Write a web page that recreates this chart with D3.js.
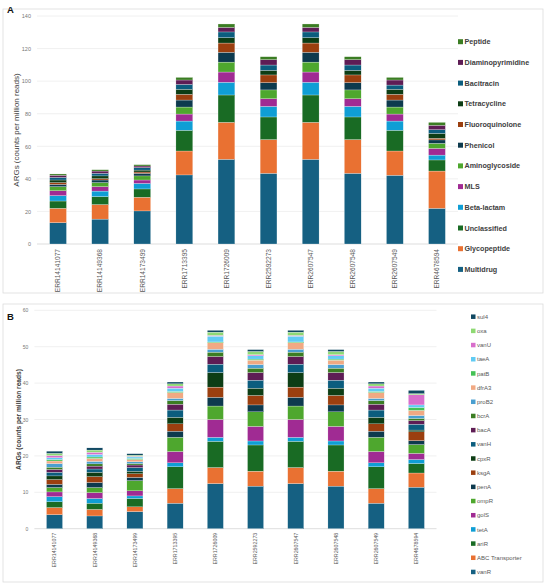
<!DOCTYPE html>
<html>
<head>
<meta charset="utf-8">
<script src="https://cdn.jsdelivr.net/npm/d3@7"></script>
<style>
  body { margin: 0; background: #fff; }
  svg { font-family: "Liberation Sans", Arial, sans-serif; }
</style>
</head>
<body>
<svg id="dessin" width="550" height="586"></svg>
<script>
// samples (same on both panels)
let echantillons = ["ERR14141077", "ERR14149368", "ERR14173499", "ERR1713395", "ERR1726009",
  "ERR2592273", "ERR2607547", "ERR2607548", "ERR2607549", "ERR4678594"];

// panel A : ARG classes, bottom to top
let classes = ["Multidrug", "Glycopeptide", "Unclassified", "Beta-lactam", "MLS", "Aminoglycoside",
  "Phenicol", "Fluoroquinolone", "Tetracycline", "Bacitracin", "Diaminopyrimidine", "Peptide"];
let multidrug        = [13.1, 15.3, 20.3, 42.4, 52.0, 43.4, 52.0, 43.4, 42.2, 21.9];
let glycopeptide     = [8.8, 8.9, 8.4, 14.7, 22.7, 20.7, 22.7, 20.7, 14.9, 22.9];
let unclassified     = [4.5, 4.9, 5.1, 12.7, 16.8, 13.9, 16.8, 13.9, 12.7, 6.8];
let betaLactam       = [3.3, 3.4, 3.4, 5.7, 7.8, 6.5, 7.8, 6.5, 5.7, 3.0];
let mls              = [3.0, 2.7, 2.1, 4.3, 6.3, 4.7, 6.3, 4.7, 4.3, 4.1];
let aminoglycoside   = [2.5, 2.5, 2.5, 4.3, 6.1, 5.4, 6.1, 5.4, 4.3, 3.1];
let phenicol         = [1.4, 1.6, 1.6, 4.3, 6.0, 4.5, 6.0, 4.5, 4.3, 2.1];
let fluoroquinolone  = [1.1, 0.8, 0.8, 3.5, 5.7, 4.7, 5.7, 4.7, 3.5, 1.0];
let tetracycline     = [1.6, 1.7, 1.2, 3.1, 3.3, 2.8, 3.3, 2.8, 3.1, 3.0];
let bacitracin       = [1.6, 1.6, 1.5, 3.0, 3.5, 3.3, 3.5, 3.3, 2.6, 2.3];
let diaminopyrimidine = [1.3, 1.4, 1.0, 2.7, 2.8, 3.3, 2.8, 3.3, 3.1, 2.7];
let peptide          = [0.8, 0.8, 0.8, 1.6, 2.1, 1.8, 2.1, 1.8, 1.6, 1.8];
let valeursA = [multidrug, glycopeptide, unclassified, betaLactam, mls, aminoglycoside,
  phenicol, fluoroquinolone, tetracycline, bacitracin, diaminopyrimidine, peptide];
let ticksA = [0, 20, 40, 60, 80, 100, 120, 140];

// panel B : genes, bottom to top
let genes = ["vanR", "ABC Transporter", "ariR", "tetA", "golS", "ompR", "penA", "ksgA", "cpxR",
  "vanH", "bacA", "bcrA", "proB2", "dfrA3", "patB", "taeA", "vanU", "oxa", "sul4"];
let vanR  = [3.85, 3.5, 4.7, 7.0, 12.4, 11.7, 12.4, 11.7, 7.0, 11.4];
let abc   = [1.95, 1.8, 1.3, 4.0, 4.4, 4.1, 4.4, 4.1, 4.0, 3.9];
let ariR  = [1.6, 1.7, 2.3, 6.0, 7.2, 7.2, 7.2, 7.2, 6.0, 2.6];
let tetA  = [1.4, 1.3, 0.7, 1.1, 1.1, 1.1, 1.1, 1.1, 1.1, 1.1];
let golS  = [1.3, 1.6, 1.4, 3.1, 4.9, 4.0, 4.9, 4.0, 3.1, 1.7];
let ompR  = [1.2, 1.4, 2.8, 3.9, 3.7, 4.0, 3.7, 4.0, 3.9, 2.4];
let penA  = [0.9, 1.4, 0.9, 1.7, 2.4, 1.9, 2.4, 1.9, 1.7, 1.1];
let ksgA  = [1.3, 1.6, 1.0, 2.0, 2.8, 2.6, 2.8, 2.6, 2.0, 2.4];
let cpxR  = [1.0, 1.2, 0.7, 1.8, 4.0, 2.0, 4.0, 2.0, 1.8, 0.5];
let vanH  = [1.0, 0.9, 1.0, 2.0, 2.3, 2.2, 2.3, 2.2, 2.0, 1.6];
let bacA  = [0.8, 0.8, 0.7, 1.6, 2.1, 2.1, 2.1, 2.1, 1.6, 1.0];
let bcrA  = [0.6, 0.6, 0.4, 1.0, 1.2, 1.2, 1.2, 1.2, 1.0, 0.6];
let proB2 = [1.0, 0.7, 0.5, 0.6, 0.8, 1.0, 0.8, 1.0, 0.6, 0.8];
let dfrA3 = [0.7, 0.8, 0.6, 1.6, 1.8, 1.2, 1.8, 1.2, 1.6, 1.4];
let patB  = [0.4, 0.4, 0.3, 0.3, 0.2, 0.3, 0.2, 0.3, 0.3, 0.8];
let taeA  = [0.5, 0.7, 0.4, 0.9, 1.6, 0.9, 1.6, 0.9, 0.9, 0.7];
let vanU  = [0.6, 0.6, 0.2, 0.6, 0.2, 0.3, 0.2, 0.3, 0.6, 2.8];
let oxa   = [0.6, 0.6, 0.3, 0.6, 0.9, 0.9, 0.9, 0.9, 0.6, 0.3];
let sul4  = [0.6, 0.6, 0.4, 0.5, 0.5, 0.5, 0.5, 0.5, 0.5, 0.9];
let valeursB = [vanR, abc, ariR, tetA, golS, ompR, penA, ksgA, cpxR, vanH, bacA, bcrA,
  proB2, dfrA3, patB, taeA, vanU, oxa, sul4];
let ticksB = [0, 10, 20, 30, 40, 50, 60];

// office-like palette: accents, then darker, then lighter
let couleurs = ["#156082", "#e97132", "#196b24", "#0f9ed5", "#a02b93", "#4ea72e",
  "#0d3a4e", "#9b3f0f", "#0d3d15", "#0b5d7e", "#5e1d55", "#3b7d23",
  "#4a9fd0", "#f1a983", "#44c155", "#61cbf3", "#d86ecc", "#8ed973", "#104862"];

let svg = d3.select("#dessin");

function panneau(o) {
  // card
  svg.append("rect")
    .attr("x", o.card[0]).attr("y", o.card[1]).attr("width", o.card[2]).attr("height", o.card[3])
    .attr("fill", "#fff").attr("stroke", "#dcdcdc").attr("stroke-width", 0.8);

  svg.append("text").text(o.lettre)
    .attr("x", 7).attr("y", o.lettreY)
    .style("font-size", "9.5px").style("font-weight", "bold").attr("fill", "#111");

  let table = echantillons.map((e, i) => {
    let row = { echantillon: e };
    o.series.forEach((s, j) => row[s] = o.valeurs[j][i]);
    return row;
  });
  let pile = d3.stack().keys(o.series)(table);

  let x = d3.scaleBand().domain(echantillons).range([o.x0, o.x1])
    .paddingInner(0.6).paddingOuter(0.3);
  let y = d3.scaleLinear().domain([0, d3.max(o.ticks)]).range([o.y0, o.y1]);

  // grid
  svg.append("g").selectAll("line").data(o.ticks).enter().append("line")
    .attr("x1", o.x0).attr("x2", o.x1)
    .attr("y1", d => y(d)).attr("y2", d => y(d))
    .attr("stroke", d => d == 0 ? "#d4d4d4" : "#ececec").attr("stroke-width", 0.8);

  // y axis labels
  let axeY = d3.axisLeft(y).tickValues(o.ticks).tickSize(0).tickPadding(o.tickPad);
  let gy = svg.append("g").attr("transform", `translate(${o.x0},0)`).call(axeY);
  gy.select(".domain").remove();
  gy.selectAll("text").style("font-size", o.tickFont).attr("fill", "#777");

  // x axis labels
  let axeX = d3.axisBottom(x).tickSize(0);
  let gx = svg.append("g").attr("transform", `translate(0,${o.y0})`).call(axeX);
  gx.select(".domain").remove();
  gx.selectAll("text")
    .attr("transform", "rotate(-90)")
    .attr("x", -o.labelGap).attr("y", 0).attr("dy", "0.35em")
    .style("text-anchor", "end").style("font-size", o.labelFont).attr("fill", "#595959");

  // bars
  svg.append("g").selectAll("g").data(pile).enter().append("g")
    .attr("fill", (d, i) => couleurs[i])
    .selectAll("rect").data(d => d).enter().append("rect")
    .attr("x", d => x(d.data.echantillon))
    .attr("width", x.bandwidth())
    .attr("y", d => y(d[1]))
    .attr("height", d => y(d[0]) - y(d[1]))
    .attr("stroke", "#fff").attr("stroke-width", 0.25);

  // y title
  svg.append("text").text("ARGs (counts per million reads)")
    .attr("transform", `translate(${o.titreX},${(o.y0 + o.y1) / 2}) rotate(-90)`)
    .style("text-anchor", "middle").style("font-size", o.titreFont)
    .style("font-weight", o.titrePoids).attr("fill", "#404040");

  // legend, top entry is the last series
  let leg = svg.append("g").selectAll("g").data(o.series.slice().reverse()).enter().append("g")
    .attr("transform", (d, i) => `translate(${o.legX},${o.legY + i * o.legPas})`);
  leg.append("rect")
    .attr("x", 0).attr("y", -o.carre / 2).attr("width", o.carre).attr("height", o.carre)
    .attr("fill", d => couleurs[o.series.indexOf(d)]);
  leg.append("text").text(d => d)
    .attr("x", o.carre + 1.5).attr("dy", "0.35em")
    .style("font-size", o.legFont).style("font-weight", o.legPoids).attr("fill", o.legCouleur);
}

panneau({
  lettre: "A", lettreY: 13, card: [3, 9, 540, 284],
  series: classes, valeurs: valeursA, ticks: ticksA,
  x0: 37, x1: 458, y0: 244, y1: 16,
  tickPad: 6, tickFont: "5.5px", labelGap: 5, labelFont: "6.6px",
  titreX: 19, titreFont: "8px", titrePoids: "normal",
  legX: 458, legY: 41.7, legPas: 20.7, carre: 5, legFont: "7.2px", legPoids: "bold", legCouleur: "#404040"
});

panneau({
  lettre: "B", lettreY: 320, card: [3, 304, 540, 278],
  series: genes, valeurs: valeursB, ticks: ticksB,
  x0: 34.4, x1: 436.5, y0: 528.7, y1: 310.3,
  tickPad: 6, tickFont: "5px", labelGap: 4, labelFont: "5.3px",
  titreX: 21, titreFont: "6.6px", titrePoids: "bold",
  legX: 471, legY: 316.7, legPas: 14.18, carre: 4.5, legFont: "6px", legPoids: "normal", legCouleur: "#595959"
});
</script>
</body>
</html>
